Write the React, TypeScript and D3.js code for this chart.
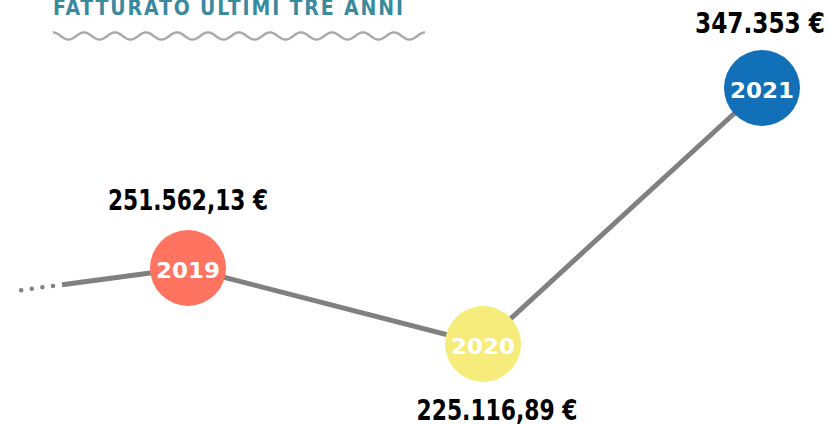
import React, { useEffect, useRef } from 'react';
import * as d3 from 'd3';

const years = [2019, 2020, 2021];
const revenue = [251562.13, 225116.89, 347353];
const valueLabels = ['251.562,13 €', '225.116,89 €', '347.353 €'];
const circleColors = ['#ff7461', '#f6ec7b', '#1170b8'];
const title = 'FATTURATO ULTIMI TRE ANNI';

const App: React.FC = () => {
    const svgRef = useRef<SVGSVGElement>(null);

    useEffect(() => {
        const width = 830;
        const height = 425;
        const r = 38;

        d3.select(svgRef.current).selectAll('*').remove();

        const svg = d3.select(svgRef.current)
            .attr('width', width)
            .attr('height', height);

        // x: year -> position, y: revenue -> position (piecewise, as in the infographic)
        const x = d3.scaleLinear().domain(years).range([188, 483, 762]);
        const sorted = revenue.slice().sort((a, b) => a - b);
        const y = d3.scaleLinear().domain(sorted).range([344, 268, 88]);

        const pts = years.map((yr, i) => ({ x: x(yr), y: y(revenue[i]), i }));

        // title
        svg.append('text')
            .attr('x', 53)
            .attr('y', 15)
            .attr('fill', '#3a8a9e')
            .style('font-family', '"DejaVu Sans Condensed", "DejaVu Sans", sans-serif')
            .style('font-weight', 'bold')
            .style('font-size', '21px')
            .attr('textLength', 350)
            .attr('lengthAdjust', 'spacing')
            .text(title);

        // wavy underline
        const wave = d3.range(53, 425.5, 1).map(px => [px, 36 - 3.6 * Math.sin(((px - 53) / 31) * 2 * Math.PI + Math.PI / 2)] as [number, number]);
        svg.append('path')
            .attr('d', d3.line().curve(d3.curveBasis)(wave))
            .attr('fill', 'none')
            .attr('stroke', '#a9a9a9')
            .attr('stroke-width', 2.4);

        // lead-in from before 2019 (solid, then fading into dots)
        const lead = (px: number) => pts[0].y + (pts[0].x - px) * 17 / 128;

        svg.append('line')
            .attr('x1', 62).attr('y1', lead(62))
            .attr('x2', pts[0].x).attr('y2', pts[0].y)
            .attr('stroke', '#808080')
            .attr('stroke-width', 5);

        svg.append('line')
            .attr('x1', 53).attr('y1', lead(53))
            .attr('x2', 20).attr('y2', lead(20))
            .attr('stroke', '#808080')
            .attr('stroke-width', 4.5)
            .attr('stroke-linecap', 'round')
            .attr('stroke-dasharray', '0 10.7');

        svg.append('path')
            .datum(pts)
            .attr('fill', 'none')
            .attr('stroke', '#808080')
            .attr('stroke-width', 5)
            .attr('d', d3.line<{ x: number; y: number }>().x(d => d.x).y(d => d.y));

        const g = svg.selectAll('g.pt')
            .data(pts)
            .enter()
            .append('g')
            .attr('class', 'pt');

        g.append('circle')
            .attr('cx', d => d.x)
            .attr('cy', d => d.y)
            .attr('r', r)
            .attr('fill', d => circleColors[d.i]);

        g.append('text')
            .attr('x', d => d.x)
            .attr('y', d => d.y + 9.5)
            .attr('text-anchor', 'middle')
            .attr('fill', '#fff')
            .attr('textLength', 64)
            .attr('lengthAdjust', 'spacingAndGlyphs')
            .style('font-family', '"DejaVu Sans", sans-serif')
            .style('font-weight', 'bold')
            .style('font-size', '22px')
            .text(d => String(years[d.i]));

        // value labels: above for 2019/2021, below for 2020
        const labelDx = [0, 14, -2];
        const labelLen = [160, 161, 130];
        const labelY = (d: { y: number; i: number }) => d.i === 1 ? d.y + 76 : d.y - (d.i === 0 ? 58 : 55);
        g.append('text')
            .attr('x', d => d.x + labelDx[d.i] - labelLen[d.i] / 2)
            .attr('y', labelY)
            .attr('fill', '#000')
            .attr('textLength', d => labelLen[d.i])
            .attr('lengthAdjust', 'spacingAndGlyphs')
            .style('font-family', '"DejaVu Sans Condensed", "DejaVu Sans", sans-serif')
            .style('font-weight', 'bold')
            .style('font-size', '28px')
            .text(d => valueLabels[d.i]);
    }, []);

    return <svg ref={svgRef} style={{ position: 'absolute', left: 0, top: 0 }}></svg>;
};

export default App;
